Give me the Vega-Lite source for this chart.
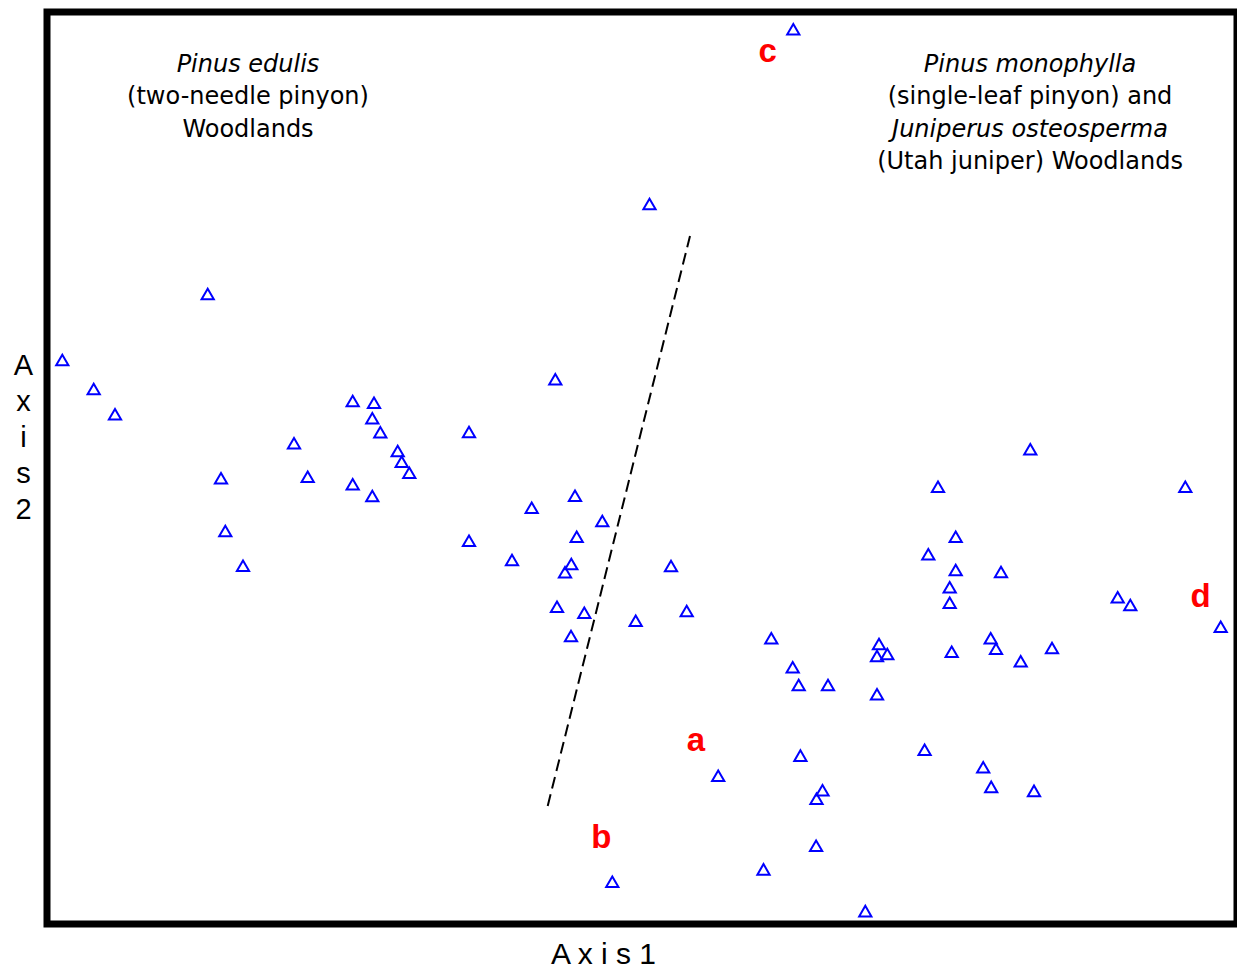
{
  "$schema": "https://vega.github.io/schema/vega-lite/v6.json",
  "autosize": {"type": "none"},
  "padding": {"left": 47, "top": 12, "right": 0, "bottom": 44},
  "width": 1190,
  "height": 912,
  "background": "white",
  "config": {
    "view": {"stroke": "black", "strokeWidth": 7},
    "axis": {"domain": false, "ticks": false, "labels": false, "grid": false, "titleColor": "black", "titleFont": "Liberation Sans", "titleFontWeight": "normal"}
  },
  "datasets": {
    "pts": [
      {"x": 15.3, "y": 564}, {"x": 46.7, "y": 535}, {"x": 68, "y": 509.7}, {"x": 160.7, "y": 630},
      {"x": 174, "y": 445.7}, {"x": 178.3, "y": 393}, {"x": 196, "y": 358.3}, {"x": 247, "y": 480.7},
      {"x": 260.7, "y": 447.3}, {"x": 305.7, "y": 523}, {"x": 327, "y": 521.3}, {"x": 325.3, "y": 505.7},
      {"x": 333.3, "y": 491.7}, {"x": 350.7, "y": 473}, {"x": 354.7, "y": 462.3}, {"x": 362.3, "y": 451.3},
      {"x": 305.7, "y": 439.7}, {"x": 325.3, "y": 428}, {"x": 422, "y": 492}, {"x": 422, "y": 383.3},
      {"x": 465, "y": 364}, {"x": 484.7, "y": 416.3}, {"x": 508.3, "y": 544.7}, {"x": 528, "y": 428.3},
      {"x": 529.7, "y": 387.3}, {"x": 555.3, "y": 403}, {"x": 524.3, "y": 360}, {"x": 518, "y": 351.7},
      {"x": 510, "y": 317.3}, {"x": 537.3, "y": 311.3}, {"x": 524, "y": 288}, {"x": 588.7, "y": 303.3},
      {"x": 602.5, "y": 720}, {"x": 624, "y": 358}, {"x": 639.7, "y": 313}, {"x": 746.3, "y": 894.7},
      {"x": 724.3, "y": 285.7}, {"x": 745.7, "y": 256.7}, {"x": 751.7, "y": 239}, {"x": 781, "y": 239},
      {"x": 832, "y": 280}, {"x": 830, "y": 268}, {"x": 840.3, "y": 270}, {"x": 830, "y": 229.7},
      {"x": 891, "y": 437.3}, {"x": 881.3, "y": 369.7}, {"x": 908.7, "y": 387.3}, {"x": 908.7, "y": 354},
      {"x": 902.7, "y": 336.7}, {"x": 902.7, "y": 321.3}, {"x": 904.7, "y": 272.3}, {"x": 954, "y": 352},
      {"x": 943.7, "y": 285.7}, {"x": 949, "y": 275.3}, {"x": 973.7, "y": 262.7}, {"x": 1005, "y": 276},
      {"x": 983.3, "y": 474.7}, {"x": 1138.3, "y": 437.3}, {"x": 1070.7, "y": 326.7}, {"x": 1083.3, "y": 319},
      {"x": 1173.7, "y": 297.3}, {"x": 753.4, "y": 168.4}, {"x": 671.2, "y": 148.2}, {"x": 775.5, "y": 133.8},
      {"x": 769.5, "y": 125.3}, {"x": 769.1, "y": 78.2}, {"x": 716.5, "y": 54.6}, {"x": 565.3, "y": 42.2},
      {"x": 818.3, "y": 12.9}, {"x": 877.6, "y": 174.2}, {"x": 936.2, "y": 156.7}, {"x": 944.2, "y": 137.1},
      {"x": 987, "y": 133.1}
    ],
    "divider": [
      {"x": 643, "y": 688}, {"x": 500.7, "y": 118}
    ],
    "notes": [
      {"x": 201, "y": 852.3, "label": "Pinus edulis", "style": "italic"},
      {"x": 201, "y": 819.8, "label": "(two-needle pinyon)", "style": "normal"},
      {"x": 201, "y": 787.3, "label": "Woodlands", "style": "normal"},
      {"x": 983, "y": 852.3, "label": "Pinus monophylla", "style": "italic"},
      {"x": 983, "y": 819.8, "label": "(single-leaf pinyon) and", "style": "normal"},
      {"x": 983, "y": 787.3, "label": "Juniperus osteosperma", "style": "italic"},
      {"x": 983, "y": 754.8, "label": "(Utah juniper) Woodlands", "style": "normal"}
    ],
    "letters": [
      {"x": 649, "y": 173.5, "label": "a"},
      {"x": 554.4, "y": 76, "label": "b"},
      {"x": 720.7, "y": 862.3, "label": "c"},
      {"x": 1153.7, "y": 317.3, "label": "d"}
    ]
  },
  "encoding": {
    "x": {
      "field": "x", "type": "quantitative",
      "scale": {"domain": [0, 1190], "nice": false, "zero": false},
      "axis": {"title": "A x i s 1", "titleFontSize": 30, "titleX": 556, "titleY": 39, "titleBaseline": "alphabetic", "titleAlign": "center"}
    },
    "y": {
      "field": "y", "type": "quantitative",
      "scale": {"domain": [0, 912], "nice": false, "zero": false},
      "axis": {"title": ["A", "x", "i", "s", "2"], "titleAngle": 0, "titleFontSize": 29, "titleX": -24, "titleY": 362, "titleBaseline": "alphabetic", "titleAlign": "center", "titleLineHeight": 36}
    }
  },
  "layer": [
    {
      "data": {"name": "divider"},
      "mark": {"type": "line", "color": "black", "strokeWidth": 2, "strokeDash": [12, 6]}
    },
    {
      "data": {"name": "pts"},
      "mark": {"type": "point", "shape": "triangle-up", "filled": false, "stroke": "#0000ff", "strokeWidth": 2, "size": 150, "opacity": 1}
    },
    {
      "data": {"name": "notes"},
      "transform": [{"filter": "datum.style === 'italic'"}],
      "mark": {"type": "text", "font": "DejaVu Sans", "fontSize": 24, "fontStyle": "italic", "align": "center", "baseline": "alphabetic", "color": "black"},
      "encoding": {"text": {"field": "label"}}
    },
    {
      "data": {"name": "notes"},
      "transform": [{"filter": "datum.style === 'normal'"}],
      "mark": {"type": "text", "font": "DejaVu Sans", "fontSize": 24, "align": "center", "baseline": "alphabetic", "color": "black"},
      "encoding": {"text": {"field": "label"}}
    },
    {
      "data": {"name": "letters"},
      "mark": {"type": "text", "font": "Liberation Sans", "fontSize": 33, "fontWeight": "bold", "align": "center", "baseline": "alphabetic", "color": "#ff0000"},
      "encoding": {"text": {"field": "label"}}
    }
  ]
}
